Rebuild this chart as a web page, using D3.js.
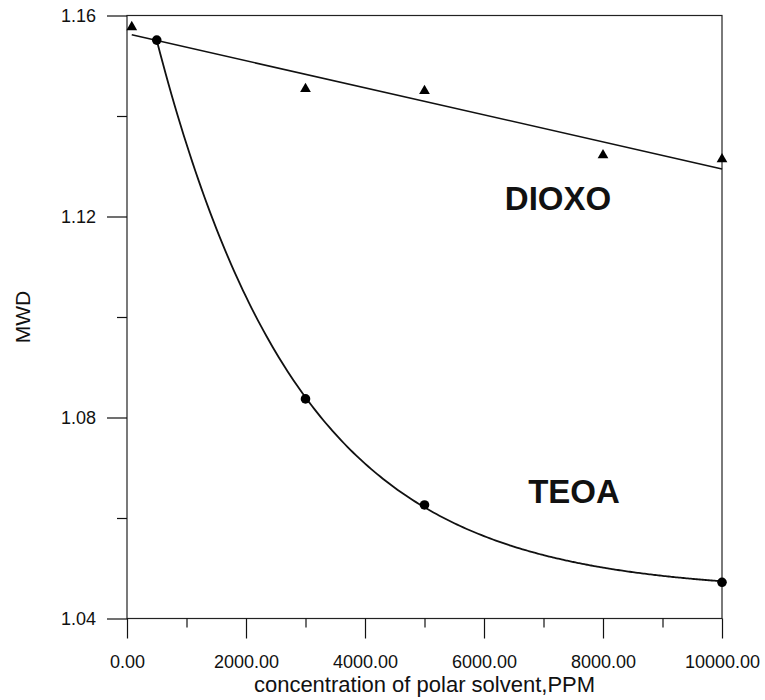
<!DOCTYPE html>
<html>
<head>
<meta charset="utf-8">
<script src="https://cdn.jsdelivr.net/npm/d3@7/dist/d3.min.js"></script>
<style>
  html, body { margin: 0; padding: 0; background: #fff; }
  svg { display: block; }
  text { font-family: "Liberation Sans", Arial, Helvetica, sans-serif; fill: #111; }
</style>
</head>
<body>
<svg id="chart" width="765" height="700"></svg>
<script>
// Measured MWD versus polar solvent concentration (ppm)
const dioxoPPM = [80, 3000, 5000, 8000, 10000];
const dioxoMWD = [1.1577, 1.1454, 1.1450, 1.1322, 1.1314];
const teoaPPM  = [500, 3000, 5000, 10000];
const teoaMWD  = [1.1551, 1.0837, 1.0626, 1.0472];

const xMajorTicks = [0, 2000, 4000, 6000, 8000, 10000];
const xMinorTicks = [1000, 3000, 5000, 7000, 9000];
const yMajorTicks = [1.04, 1.08, 1.12, 1.16];
const yMinorTicks = [1.06, 1.10, 1.14];

const seriesLabels = ["DIOXO", "TEOA"];
const xTitle = "concentration of polar solvent,PPM";
const yTitle = "MWD";

const svg = d3.select("#chart");
const plotLeft = 127, plotRight = 722, plotTop = 15.5, plotBottom = 618.5;

const x = d3.scaleLinear().domain([0, 10000]).range([plotLeft, plotRight]);
const y = d3.scaleLinear().domain([1.04, 1.16]).range([plotBottom, plotTop]);

// Frame
svg.append("rect")
  .attr("x", plotLeft).attr("y", plotTop)
  .attr("width", plotRight - plotLeft).attr("height", plotBottom - plotTop)
  .attr("fill", "none").attr("stroke", "#222").attr("stroke-width", 1.2);

// Left axis: long major ticks, short minor ticks, pointing outward
const yAxis = svg.append("g").attr("transform", `translate(${plotLeft},0)`)
  .call(d3.axisLeft(y).tickValues(yMajorTicks).tickSize(20).tickPadding(11)
    .tickFormat(d3.format(".2f")));
yAxis.select(".domain").remove();
yAxis.selectAll(".tick line").attr("stroke", "#111").attr("stroke-width", 1.2);
yAxis.selectAll(".tick text").style("font-size", "18px").attr("fill", "#111");

const yMinor = svg.append("g").attr("transform", `translate(${plotLeft},0)`)
  .call(d3.axisLeft(y).tickValues(yMinorTicks).tickSize(10).tickFormat(""));
yMinor.select(".domain").remove();
yMinor.selectAll(".tick line").attr("stroke", "#111").attr("stroke-width", 1.2);

// Bottom axis
const xAxis = svg.append("g").attr("transform", `translate(0,${plotBottom})`)
  .call(d3.axisBottom(x).tickValues(xMajorTicks).tickSize(20).tickPadding(17)
    .tickFormat(d3.format(".2f")));
xAxis.select(".domain").remove();
xAxis.selectAll(".tick line").attr("stroke", "#111").attr("stroke-width", 1.2);
xAxis.selectAll(".tick text").style("font-size", "18px").attr("fill", "#111");

const xMinor = svg.append("g").attr("transform", `translate(0,${plotBottom})`)
  .call(d3.axisBottom(x).tickValues(xMinorTicks).tickSize(9).tickFormat(""));
xMinor.select(".domain").remove();
xMinor.selectAll(".tick line").attr("stroke", "#111").attr("stroke-width", 1.2);

// Axis titles
svg.append("text")
  .attr("x", (plotLeft + plotRight) / 2).attr("y", 692)
  .attr("text-anchor", "middle").style("font-size", "22px")
  .text(xTitle);

svg.append("text")
  .attr("transform", `translate(30,${(plotTop + plotBottom) / 2}) rotate(-90)`)
  .attr("text-anchor", "middle").style("font-size", "21px")
  .text(yTitle);

// DIOXO: least-squares straight line
const n = dioxoPPM.length;
const mx = d3.mean(dioxoPPM), my = d3.mean(dioxoMWD);
let sxy = 0, sxx = 0;
for (let i = 0; i < n; i++) {
  sxy += (dioxoPPM[i] - mx) * (dioxoMWD[i] - my);
  sxx += (dioxoPPM[i] - mx) ** 2;
}
const slope = sxy / sxx, intercept = my - slope * mx;
const xMinD = d3.min(dioxoPPM), xMaxD = d3.max(dioxoPPM);
svg.append("line")
  .attr("x1", x(xMinD)).attr("y1", y(intercept + slope * xMinD))
  .attr("x2", x(xMaxD)).attr("y2", y(intercept + slope * xMaxD))
  .attr("stroke", "#111").attr("stroke-width", 1.6);

// TEOA: exponential decay fit  y = a + b*exp(-c*x)
// (for each trial rate c, a and b come from linear least squares)
function fitExp(xs, ys) {
  let best = null;
  for (let c = 5e-5; c <= 2e-3; c += 1e-6) {
    const u = xs.map(v => Math.exp(-c * v));
    const mu = d3.mean(u), mv = d3.mean(ys);
    let suv = 0, suu = 0;
    for (let i = 0; i < xs.length; i++) {
      suv += (u[i] - mu) * (ys[i] - mv);
      suu += (u[i] - mu) ** 2;
    }
    const b = suv / suu, a = mv - b * mu;
    let sse = 0;
    for (let i = 0; i < xs.length; i++) sse += (a + b * u[i] - ys[i]) ** 2;
    if (!best || sse < best.sse) best = { a, b, c, sse };
  }
  return best;
}
const fit = fitExp(teoaPPM, teoaMWD);
const curveX = d3.range(d3.min(teoaPPM), d3.max(teoaPPM) + 1, 50);
svg.append("path")
  .datum(curveX)
  .attr("fill", "none").attr("stroke", "#111").attr("stroke-width", 1.8)
  .attr("d", d3.line()
    .x(d => x(d))
    .y(d => y(fit.a + fit.b * Math.exp(-fit.c * d)))
    .curve(d3.curveBasis));

// Markers
svg.append("g").selectAll("path")
  .data(dioxoPPM.map((v, i) => [v, dioxoMWD[i]]))
  .join("path")
  .attr("transform", d => `translate(${x(d[0])},${y(d[1])})`)
  .attr("d", d3.symbol(d3.symbolTriangle, 50))
  .attr("fill", "#000");

svg.append("g").selectAll("circle")
  .data(teoaPPM.map((v, i) => [v, teoaMWD[i]]))
  .join("circle")
  .attr("cx", d => x(d[0])).attr("cy", d => y(d[1]))
  .attr("r", 4.8).attr("fill", "#000");

// Series labels
svg.append("text").attr("x", 558).attr("y", 210)
  .attr("text-anchor", "middle").style("font-size", "33px").style("font-weight", "bold")
  .text(seriesLabels[0]);
svg.append("text").attr("x", 574).attr("y", 503)
  .attr("text-anchor", "middle").style("font-size", "33px").style("font-weight", "bold")
  .text(seriesLabels[1]);
</script>
</body>
</html>
